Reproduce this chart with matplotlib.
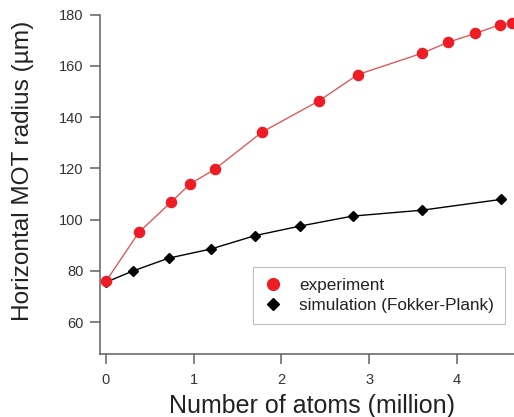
import matplotlib
matplotlib.use("Agg")
from matplotlib import pyplot as plt
from matplotlib.lines import Line2D

plt.rcParams["font.family"] = ["Liberation Sans", "DejaVu Sans"]

# experiment (red circles)
exp_atoms = [0.0, 0.376, 0.74, 0.957, 1.24, 1.78, 2.43, 2.87, 3.60, 3.90, 4.21, 4.49, 4.63]
exp_radius = [76.0, 95.1, 106.8, 113.9, 119.7, 134.2, 146.4, 156.6, 164.9, 169.2, 172.7, 176.0, 176.6]

# simulation (Fokker-Plank, black diamonds)
sim_atoms = [0.0, 0.307, 0.714, 1.20, 1.70, 2.21, 2.81, 3.60, 4.50]
sim_radius = [75.6, 80.0, 85.0, 88.6, 93.8, 97.5, 101.4, 103.7, 107.9]

x_ticks = [0, 1, 2, 3, 4]
y_ticks = [60, 80, 100, 120, 140, 160, 180]

axis_grey = "#606060"
red = "#ee1c24"

fig = plt.figure(figsize=(5.14, 4.17), dpi=100)
ax = fig.add_axes([0.1946, 0.151, 0.8054, 0.814])

ax.plot(exp_atoms, exp_radius, color="#e05a5a", lw=1.0, zorder=2)
ax.plot(exp_atoms, exp_radius, color=red, lw=0, marker="o", ms=7.3,
        clip_on=False, zorder=4)
ax.plot(sim_atoms, sim_radius, color="black", lw=1.0, marker="D", ms=5.3,
        zorder=3)

ax.set_xlim(-0.068, 4.65)
ax.set_ylim(47.6, 180)
ax.set_xticks(x_ticks)
ax.set_yticks(y_ticks)

for side in ["top", "right"]:
    ax.spines[side].set_visible(False)
for side in ["left", "bottom"]:
    ax.spines[side].set_color(axis_grey)
    ax.spines[side].set_linewidth(1.1)

ax.tick_params(direction="out", length=7, width=1.1, color=axis_grey,
               labelcolor="#333333", labelsize=10.5)
ax.tick_params(axis="x", pad=7)
ax.tick_params(axis="y", pad=5)

ax.set_xlabel("Number of atoms (million)", fontsize=18, color="#222222")
ax.set_ylabel("Horizontal MOT radius (µm)", fontsize=17.6, color="#222222")
ax.xaxis.set_label_coords(0.512, -0.117)
ax.yaxis.set_label_coords(-0.16, 0.539)

# legend shows markers only
handles = [
    Line2D([], [], ls="none", marker="o", ms=8.5, color=red),
    Line2D([], [], ls="none", marker="D", ms=6, color="black"),
]
labels = ["experiment", "simulation (Fokker-Plank)"]
leg = ax.legend(handles, labels, loc="lower left", bbox_to_anchor=(0.370, 0.088),
                borderaxespad=0, fontsize=12.3, frameon=True, fancybox=False,
                edgecolor="#b0b0b0", handlelength=1.0, handletextpad=1.05,
                borderpad=0.65, labelspacing=0.3)
leg.get_frame().set_linewidth(0.8)
for t in leg.get_texts():
    t.set_color("#222222")

fig.savefig("out.png", dpi=100)
